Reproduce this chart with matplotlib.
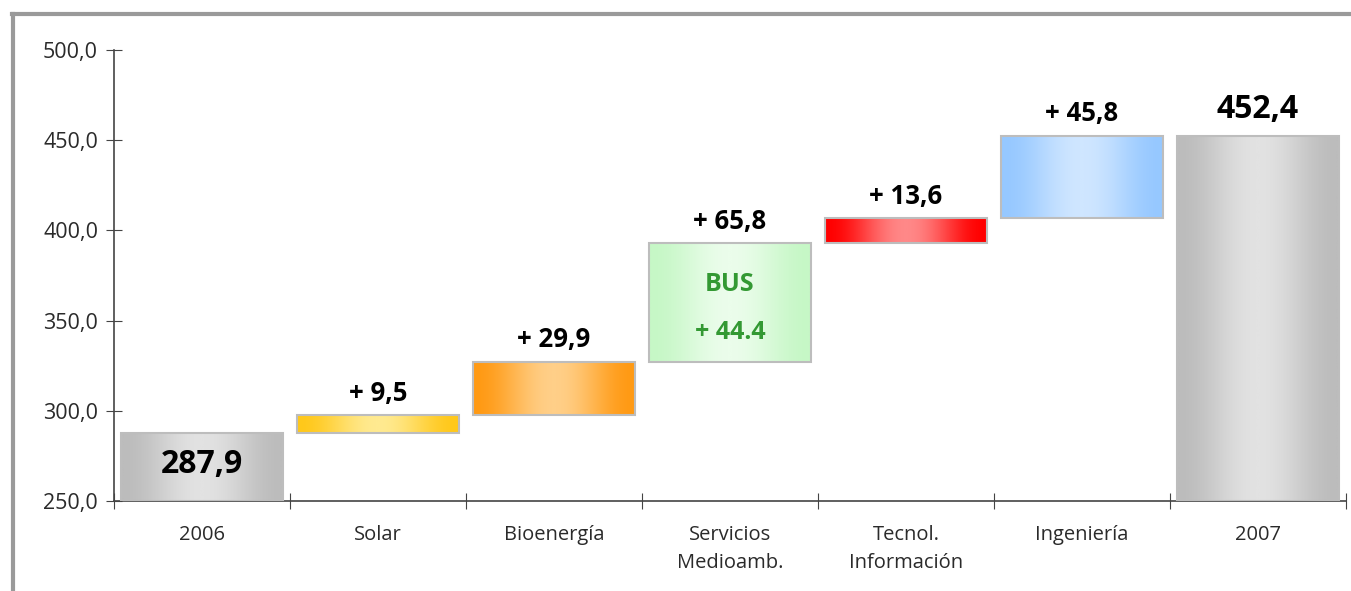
import numpy as np
import matplotlib
matplotlib.use('Agg')
import matplotlib.pyplot as plt
from matplotlib.colors import LinearSegmentedColormap
from matplotlib.lines import Line2D

plt.rcParams['font.family'] = ['Open Sans', 'DejaVu Sans']

# data
categories = ['2006', 'Solar', 'Bioenergía', 'Servicios\nMedioamb.',
              'Tecnol.\nInformación', 'Ingeniería', '2007']
start_value = 287.9
deltas = [9.5, 29.9, 65.8, 13.6, 45.8]
end_value = 452.4
bus_value = 44.4

# (edge colour, centre colour) for each bar's horizontal gradient
bar_colors = [('#bcbcbc', '#e2e2e2'),
              ('#ffc81a', '#ffea90'),
              ('#ff9a14', '#ffcf88'),
              ('#c6f7c6', '#ebfdeb'),
              ('#ff0000', '#ff8888'),
              ('#96c8ff', '#cfe6ff'),
              ('#bcbcbc', '#e2e2e2')]

bottoms = [250.0]
tops = [start_value]
level = start_value
for d in deltas:
    bottoms.append(level)
    level += d
    tops.append(level)
bottoms.append(250.0)
tops.append(end_value)

W, H = 1351, 591
fig = plt.figure(figsize=(W / 100, H / 100), dpi=100)
ax = fig.add_axes([114 / W, 1 - 501 / H, 1232 / W, 451 / H])

width = 0.92
prof = np.linspace(0, 1, 256)
prof = 0.5 - 0.5 * np.cos(2 * np.pi * prof)  # 0 at edges, 1 in centre
for i, (b, t) in enumerate(zip(bottoms, tops)):
    cmap = LinearSegmentedColormap.from_list('g%d' % i, bar_colors[i])
    ax.imshow(prof[np.newaxis, :], cmap=cmap, aspect='auto', vmin=0, vmax=1,
              extent=(i - width / 2, i + width / 2, b, t), zorder=2,
              interpolation='bilinear')
    ax.bar(i, t - b, bottom=b, width=width, fill=False,
           edgecolor='#bdbdbd', linewidth=1.5, zorder=3)

# labels
ax.text(0, 270, f'{start_value:.1f}'.replace('.', ','), ha='center',
        va='center', fontsize=23, fontweight='bold', color='black', zorder=4)
for i, d in enumerate(deltas, start=1):
    ax.annotate('+ ' + f'{d:.1f}'.replace('.', ','), (i, tops[i]),
                xytext=(0, 6), textcoords='offset points', ha='center',
                va='bottom', fontsize=18.5, fontweight='bold', color='black')
ax.annotate(f'{end_value:.1f}'.replace('.', ','), (6, end_value),
            xytext=(0, 7), textcoords='offset points', ha='center',
            va='bottom', fontsize=23, fontweight='bold', color='black')
ax.text(3, 370, 'BUS', ha='center', va='center', fontsize=18,
        fontweight='bold', color='#339933', zorder=4)
ax.text(3, 343.5, '+ ' + f'{bus_value:.1f}', ha='center', va='center',
        fontsize=18, fontweight='bold', color='#339933', zorder=4)

ax.set_xlim(-0.5, 6.5)
ax.set_ylim(250, 500)
ax.set_yticks(np.arange(250, 501, 50))
ax.set_yticklabels([f'{v:.1f}'.replace('.', ',') for v in np.arange(250, 501, 50)])
ax.set_xticks(np.arange(-0.5, 7, 1))
ax.set_xticklabels([])
ax.set_xticks(range(7), minor=True)
ax.set_xticklabels(categories, minor=True, linespacing=1.55)
ax.tick_params(axis='x', which='minor', length=0, pad=17, labelsize=14.5,
               labelcolor='#2a2a2a')
ax.tick_params(axis='x', which='major', direction='inout', length=12,
               color='#444444')
ax.tick_params(axis='y', direction='inout', length=12, pad=5.5, labelsize=15.5,
               color='#444444', labelcolor='#2a2a2a')
for s in ['top', 'right']:
    ax.spines[s].set_visible(False)
for s in ['left', 'bottom']:
    ax.spines[s].set_color('#444444')
    ax.spines[s].set_linewidth(1.2)

# outer frame (top and left only visible)
fig.add_artist(Line2D([13.5 / W, 13.5 / W], [0, 1 - 13.5 / H],
                      transform=fig.transFigure, color='#9a9a9a', linewidth=3))
fig.add_artist(Line2D([12 / W, 1], [1 - 13.5 / H, 1 - 13.5 / H],
                      transform=fig.transFigure, color='#9a9a9a', linewidth=3))

fig.savefig('out.png', dpi=100)
